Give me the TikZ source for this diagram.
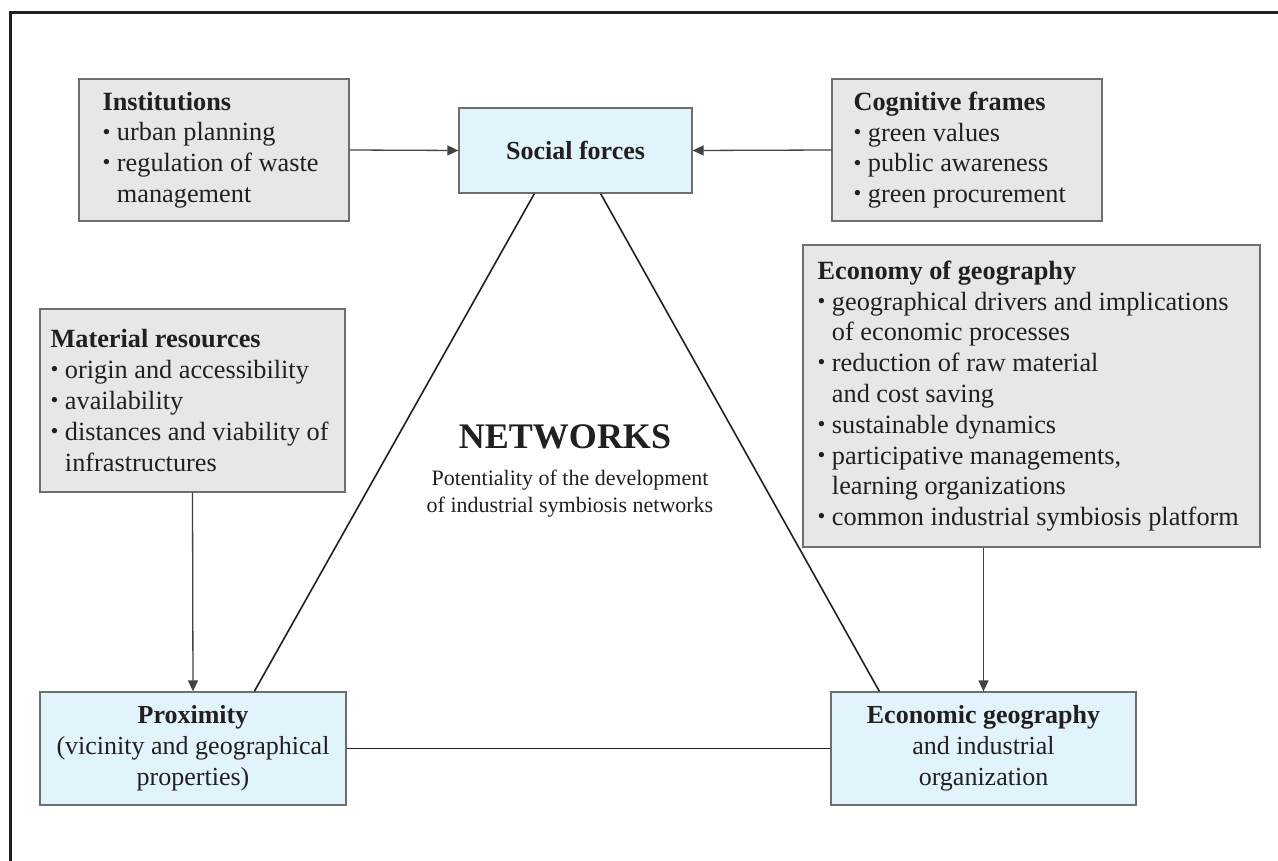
\documentclass[tikz,border=0pt]{standalone}
\usepackage{fontspec}
\setmainfont{Liberation Serif}
\usetikzlibrary{arrows.meta,calc}
\definecolor{greyfill}{HTML}{E6E7E8}
\definecolor{bluefill}{HTML}{E1F3FB}
\definecolor{edge}{HTML}{6D6E71}
\definecolor{ink}{HTML}{231F20}
\newcommand{\bul}{\raisebox{0.15ex}{\scalebox{0.85}{\textbullet}}\ }
\newcommand{\ind}{\phantom{\bul}}
\begin{document}
\begin{tikzpicture}[x=1pt,y=-1pt,
  greybox/.style={draw=edge, line width=1.3pt, fill=greyfill, inner sep=0pt},
  bluebox/.style={draw=edge, line width=1.3pt, fill=bluefill, align=center, inner sep=0pt, text=ink, font=\fontsize{26}{31}\selectfont},
  txt/.style={anchor=west, align=left, inner sep=0pt, text=ink, font=\fontsize{26.3}{30.8}\selectfont},
  tri/.style={draw=ink, line width=1.6pt},
  arr/.style={draw=ink!85, line width=1.3pt, -{Triangle[length=11pt,width=10pt]}}
]
\useasboundingbox (0,0) rectangle (1278,861);
\draw[line width=3pt, ink] (10,861) -- (10,13) -- (1278,13);

% grey boxes
\node[greybox, minimum width=270pt, minimum height=142pt] (inst) at (214,150) {};
\node[txt] (instT) at ($(inst.west)+(24,0)$) {\textbf{Institutions}\\ \bul urban planning\\ \bul regulation of waste\\ \ind management};

\node[greybox, minimum width=270pt, minimum height=142pt] (cog) at (967,150) {};
\node[txt] (cogT) at ($(cog.west)+(22,0)$) {\textbf{Cognitive frames}\\ \bul green values\\ \bul public awareness\\ \bul green procurement};

\node[greybox, minimum width=305pt, minimum height=183pt] (mat) at (192.5,400.5) {};
\node[txt] (matT) at ($(mat.west)+(11,0)$) {\textbf{Material resources}\\ \bul origin and accessibility\\ \bul availability\\ \bul distances and viability of\\ \ind infrastructures};

\node[greybox, minimum width=457pt, minimum height=302pt] (econ) at (1031.5,396) {};
\node[txt] (econT) at ($(econ.west)+(15,0)$) {\textbf{Economy of geography}\\ \bul geographical drivers and implications\\ \ind of economic processes\\ \bul reduction of raw material\\ \ind and cost saving\\ \bul sustainable dynamics\\ \bul participative managements,\\ \ind learning organizations\\ \bul common industrial symbiosis platform};

% blue boxes
\node[bluebox, minimum width=233pt, minimum height=85pt] (soc) at (575.5,150.5) {\textbf{Social forces}};
\node[bluebox, minimum width=306pt, minimum height=113pt] (prox) at (193,748.5) {\textbf{Proximity}\\ (vicinity and geographical\\ properties)};
\node[bluebox, minimum width=305pt, minimum height=113pt] (egeo) at (983.5,748.5) {\textbf{Economic geography}\\ and industrial\\ organization};

% centre text
\node[text=ink, font=\fontsize{36}{40}\selectfont\bfseries, inner sep=0pt] (net) at (565,437) {NETWORKS};
\node[text=ink, font=\fontsize{22}{27}\selectfont, align=center, inner sep=0pt] (netT) at (570,494) {Potentiality of the development\\ of industrial symbiosis networks};

% triangle
\draw[tri] ($(soc.south west)+(76,0)$) -- ($(prox.north west)+(215,0)$);
\draw[tri] ($(soc.south east)+(-92,0)$) -- ($(egeo.north west)+(49,0)$);
\draw[tri] (prox.east) -- (egeo.west);

% arrows
\draw[arr] (inst.east) -- (soc.west);
\draw[arr] (cog.west) -- (soc.east);
\draw[arr] (mat.south) -- (prox.north);
\draw[arr] (egeo.north |- econ.south) -- (egeo.north);
\end{tikzpicture}
\end{document}
